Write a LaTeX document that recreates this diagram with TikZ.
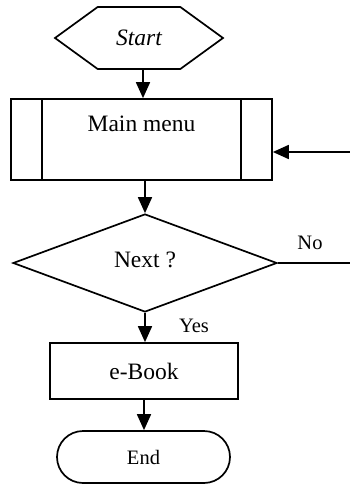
\documentclass[tikz,border=0pt]{standalone}
\usepackage{fontspec}
\setmainfont{Liberation Serif}
\usepackage{tikz}
\usetikzlibrary{shapes.geometric,shapes.symbols,arrows.meta}

\begin{document}
\begin{tikzpicture}[x=1pt, y=-1pt, line width=1.7pt,
    every node/.style={font=\fontsize{23.5}{27}\selectfont},
    small/.style={font=\fontsize{20.5}{24}\selectfont},
    flow/.style={-{Triangle[length=16pt,width=14pt]}},
    boxnode/.style={draw, rectangle, inner sep=0pt}]
    \useasboundingbox (0,0) rectangle (350,484);

    % Start
    \node[draw, signal, signal to=east and west, signal pointer angle=72,
          minimum width=168pt, minimum height=62pt, inner sep=0pt] (start) at (139,38) {\itshape Start};

    % Main menu (predefined process)
    \node[boxnode, minimum width=261pt, minimum height=81pt] (menu) at (141.5,139.5) {};
    \draw ([xshift=32pt]menu.north west) -- ([xshift=32pt]menu.south west);
    \draw ([xshift=-32pt]menu.north east) -- ([xshift=-32pt]menu.south east);
    \node (menutext) at (141.5,124) {Main menu};

    % Decision
    \node[draw, diamond, aspect=2.7, minimum width=264pt, minimum height=98pt, inner sep=0pt] (next) at (145,263) {};
    \node (nexttext) at (145,260) {Next ?};

    % e-Book
    \node[boxnode, minimum width=188pt, minimum height=56pt] (ebook) at (144,371) {e-Book};

    % End
    \node[draw, rectangle, rounded corners=26pt, minimum width=173pt, minimum height=52pt, small] (end) at (143.5,457) {End};

    % loose ends
    \coordinate (back) at (350,152);
    \coordinate (noend) at (350,263);

    % connectors
    \draw[flow] ([xshift=4pt]start.south) -- ([xshift=4pt]start.south |- menu.north);
    \draw[flow] ([xshift=3.5pt]menu.south) -- ([xshift=3.5pt]menu.south |- next.north);
    \draw[flow] (next.south) -- (next.south |- ebook.north);
    \draw[flow] (ebook.south) -- (ebook.south |- end.north);
    \draw[flow] (back) -- (back -| menu.east);
    \draw (next.east) -- (noend);

    % labels
    \node[small] (no) at (310,243) {No};
    \node[small] (yes) at (194,326) {Yes};
\end{tikzpicture}
\end{document}
